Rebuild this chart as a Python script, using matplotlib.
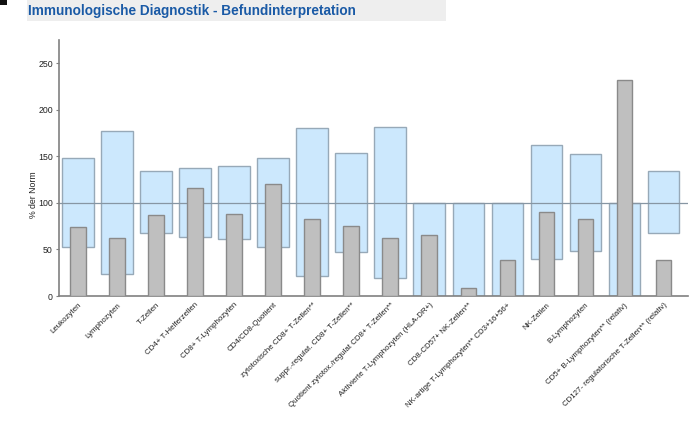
import matplotlib
matplotlib.use("Agg")
import matplotlib.pyplot as plt
from matplotlib.patches import Rectangle

plt.rcParams['font.family'] = ['Liberation Sans', 'DejaVu Sans']

categories = [
    "Leukozyten", "Lymphozyten", "T-Zellen", "CD4+ T-Helferzellen",
    "CD8+ T-Lymphozyten", "CD4/CD8-Quotient", "zytotoxische CD8+ T-Zellen**",
    "suppr.-regulat. CD8+ T-Zellen**", "Quotient zytotox./regulat CD8+ T-Zellen**",
    "Aktivierte T-Lymphozyten (HLA-DR+)", "CD8-CD57+ NK-Zellen**",
    "NK-artige T-Lymphozyten** CD3+16+56+", "NK-Zellen", "B-Lymphozyten",
    "CD5+ B-Lymphozyten** (relativ)", "CD127- regulatorische T-Zellen** (relativ)",
]
norm_low = [53, 24, 68, 63, 61, 53, 21, 47, 19, 0, 0, 0, 40, 48, 0, 68]
norm_high = [148, 177, 134, 138, 140, 148, 180, 154, 182, 100, 100, 100, 162, 153, 100, 134]
values = [74, 62, 87, 116, 88, 120, 83, 75, 62, 65, 9, 39, 90, 83, 232, 39]
yticks = [0, 50, 100, 150, 200, 250]

W, H = 689, 440
fig = plt.figure(figsize=(W / 100, H / 100), dpi=100)

# title band
fig.patches.append(Rectangle((27 / W, 1 - 21 / H), (446 - 27) / W, 21 / H,
                             transform=fig.transFigure, facecolor='#eeeeee',
                             edgecolor='none', zorder=0))
fig.patches.append(Rectangle((0, 1 - 5 / H), 7 / W, 5 / H,
                             transform=fig.transFigure, facecolor='#111111',
                             edgecolor='none', zorder=0))
fig.text(28 / W, 1 - 11.5 / H, "Immunologische Diagnostik - Befundinterpretation",
         color='#1a5aa6', fontsize=9.85, fontweight='bold', va='center', ha='left')

ax = fig.add_axes([59 / W, 1 - 296 / H, (688 - 59) / W, (296 - 40) / H])
x = list(range(len(categories)))
heights = [h - l for l, h in zip(norm_low, norm_high)]
ax.bar(x, heights, bottom=norm_low, width=0.81, color='#cce8fd',
       edgecolor='#97a9b8', linewidth=1.0, zorder=1)
ax.axhline(100, color='#8796a3', linewidth=0.9, zorder=2)
ax.bar(x, values, width=0.40, color='#bfbfbf', edgecolor='#8a8a8a',
       linewidth=1.0, zorder=3)

ax.set_xlim(-0.49, 15.63)
ax.set_ylim(0, 275)
ax.set_yticks(yticks)
ax.set_yticklabels([str(t) for t in yticks], fontsize=6.3, color='#222222')
ax.set_xticks(x)
ax.set_xticklabels(categories, rotation=45, ha='right', rotation_mode='anchor',
                   fontsize=5.7, color='#222222')
ax.tick_params(axis='x', length=0, pad=4)
ax.tick_params(axis='y', length=2.5, width=0.8, color='#808080', pad=2)
ax.set_ylabel("% der Norm", fontsize=6.3, color='#222222', labelpad=8)
ax.yaxis.set_label_coords(-0.034, 0.395)
for s in ['top', 'right']:
    ax.spines[s].set_visible(False)
for s in ['left', 'bottom']:
    ax.spines[s].set_color('#808080')
    ax.spines[s].set_linewidth(1.2)

fig.savefig("out.png", dpi=100)
